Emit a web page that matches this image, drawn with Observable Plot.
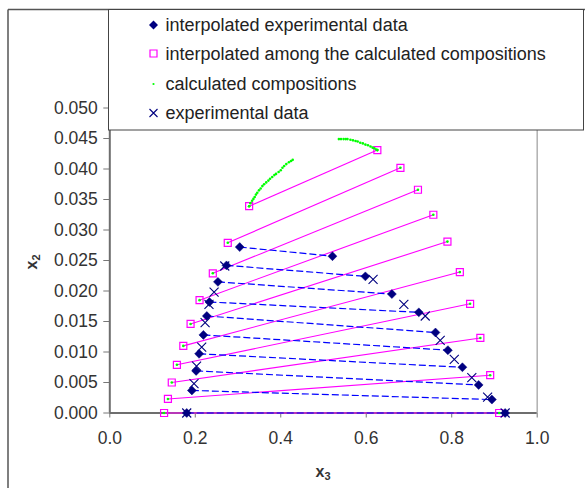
<!DOCTYPE html>
<html><head><meta charset="utf-8">
<script src="https://cdn.jsdelivr.net/npm/d3@7"></script>
<script src="https://cdn.jsdelivr.net/npm/@observablehq/plot@0.6"></script>
<style>body{margin:0;background:#fff} #chart svg{display:block}</style>
</head><body><div id="chart"></div>
<script>
// tick values
const xTicks = [0, 0.2, 0.4, 0.6, 0.8, 1.0];
const yTicks = [0, 0.005, 0.010, 0.015, 0.020, 0.025, 0.030, 0.035, 0.040, 0.045, 0.050];

// interpolated among the calculated compositions (tie-line ends)
const calcLeftX  = [0.127, 0.136, 0.145, 0.157, 0.172, 0.189, 0.210, 0.241, 0.276, 0.326];
const calcLeftY  = [0.0000, 0.0023, 0.0050, 0.0079, 0.0110, 0.0146, 0.0185, 0.0229, 0.0279, 0.0339];
const calcRightX = [0.911, 0.890, 0.867, 0.843, 0.819, 0.790, 0.757, 0.721, 0.680, 0.626];
const calcRightY = [0.0000, 0.0062, 0.0123, 0.0179, 0.0231, 0.0281, 0.0325, 0.0366, 0.0402, 0.0431];

// interpolated experimental data (tie-line ends)
const expLeftX  = [0.180, 0.192, 0.202, 0.209, 0.219, 0.227, 0.233, 0.253, 0.273, 0.304];
const expLeftY  = [0.0000, 0.0037, 0.0069, 0.0097, 0.0128, 0.0159, 0.0182, 0.0215, 0.0242, 0.0272];
const expRightX = [0.925, 0.894, 0.863, 0.825, 0.791, 0.762, 0.723, 0.660, 0.598, 0.521];
const expRightY = [0.0000, 0.0022, 0.0046, 0.0075, 0.0103, 0.0132, 0.0165, 0.0195, 0.0224, 0.0257];

// experimental data
const crossX = [0.180, 0.197, 0.203, 0.215, 0.223, 0.232, 0.244, 0.269, 0.616, 0.688, 0.738, 0.773, 0.806, 0.847, 0.884, 0.925];
const crossY = [0.0000, 0.0048, 0.0077, 0.0108, 0.0148, 0.0178, 0.0198, 0.0241, 0.0219, 0.0178, 0.0159, 0.0119, 0.0088, 0.0058, 0.0026, 0.0000];

// calculated compositions (binodal branches near the plait point)
const greenLeftX  = [0.326, 0.329, 0.333, 0.336, 0.339, 0.342, 0.345, 0.349, 0.353, 0.357, 0.361, 0.366, 0.371, 0.375, 0.380, 0.385, 0.389, 0.395, 0.400, 0.404, 0.408, 0.413, 0.419, 0.424, 0.428];
const greenLeftY  = [0.0339, 0.0344, 0.0348, 0.0351, 0.0354, 0.0358, 0.0361, 0.0365, 0.0368, 0.0372, 0.0375, 0.0378, 0.0381, 0.0384, 0.0387, 0.0390, 0.0392, 0.0395, 0.0398, 0.0402, 0.0405, 0.0408, 0.0411, 0.0413, 0.0415];
const greenRightX = [0.536, 0.541, 0.547, 0.552, 0.556, 0.563, 0.569, 0.575, 0.580, 0.586, 0.592, 0.598, 0.604, 0.610, 0.615, 0.619, 0.623, 0.626];
const greenRightY = [0.0449, 0.0449, 0.0449, 0.0449, 0.0449, 0.0448, 0.0447, 0.0446, 0.0445, 0.0443, 0.0442, 0.0440, 0.0439, 0.0437, 0.0435, 0.0434, 0.0432, 0.0431];

const legendLabels = ["interpolated experimental data", "interpolated among the calculated compositions", "calculated compositions", "experimental data"];

const calcTies = calcLeftX.map((x, i) => ({x1: x, y1: calcLeftY[i], x2: calcRightX[i], y2: calcRightY[i]}));
const expTies = expLeftX.map((x, i) => ({x1: x, y1: expLeftY[i], x2: expRightX[i], y2: expRightY[i]}));
const squares = calcLeftX.map((x, i) => ({x, y: calcLeftY[i]})).concat(calcRightX.map((x, i) => ({x, y: calcRightY[i]})));
const diamonds = expLeftX.map((x, i) => ({x, y: expLeftY[i]})).concat(expRightX.map((x, i) => ({x, y: expRightY[i]})));
const crosses = crossX.map((x, i) => ({x, y: crossY[i]}));
const greens = squares.concat(greenLeftX.map((x, i) => ({x, y: greenLeftY[i]})), greenRightX.map((x, i) => ({x, y: greenRightY[i]})));

const diamondSym = {draw(ctx, size) { const h = Math.sqrt(size / 2); ctx.moveTo(0, -h); ctx.lineTo(h, 0); ctx.lineTo(0, h); ctx.lineTo(-h, 0); ctx.closePath(); }};
const squareSym = {draw(ctx, size) { const h = Math.sqrt(size) / 2; ctx.rect(-h, -h, 2 * h, 2 * h); }};
const timesSym = {draw(ctx, size) { const h = Math.sqrt(size) / 2; ctx.moveTo(-h, -h); ctx.lineTo(h, h); ctx.moveTo(h, -h); ctx.lineTo(-h, h); }};
const rFor = s => Math.sqrt(s / Math.PI);

const chart = Plot.plot({
  width: 585, height: 488,
  marginLeft: 109.3, marginRight: 48.3, marginTop: 107.5, marginBottom: 75.5,
  style: {fontFamily: "'Liberation Sans', Arial, sans-serif", fontSize: "17.5px", background: "white", overflow: "visible"},
  x: {domain: [0, 1]},
  y: {domain: [0, 0.05]},
  marks: [
    Plot.ruleX([1], {stroke: "#b0b0b0", strokeWidth: 1.5}),
    Plot.axisX({ticks: xTicks, tickFormat: d3.format(".1f"), tickSize: 5, tickPadding: 14, label: null, stroke: "#777", fill: "#333", fontSize: 17.5}),
    Plot.axisY({ticks: yTicks, tickFormat: d3.format(".3f"), tickSize: 6, tickPadding: 6, label: null, stroke: "#777", fill: "#333", fontSize: 17.5}),
    Plot.ruleX([0], {stroke: "#6e6e6e", strokeWidth: 2}),
    Plot.ruleY([0], {stroke: "#6e6e6e", strokeWidth: 2}),
    Plot.link(calcTies, {x1: "x1", y1: "y1", x2: "x2", y2: "y2", stroke: "#ff00ff", strokeWidth: 1.1}),
    Plot.link(expTies, {x1: "x1", y1: "y1", x2: "x2", y2: "y2", stroke: "#0000ff", strokeWidth: 1.2, strokeDasharray: "7,3"}),
    Plot.dot(squares, {x: "x", y: "y", symbol: squareSym, r: rFor(49), fill: "none", stroke: "#ff00ff", strokeWidth: 1.2}),
    Plot.dot(diamonds, {x: "x", y: "y", symbol: diamondSym, r: rFor(40), fill: "#000080", stroke: "#000080", strokeWidth: 0.5}),
    Plot.dot(greens, {x: "x", y: "y", r: 1.3, fill: "#00ff00", stroke: "none"}),
    Plot.dot(crosses, {x: "x", y: "y", symbol: timesSym, r: rFor(81), fill: "none", stroke: "#000080", strokeWidth: 1.1})
  ]
});
document.getElementById("chart").appendChild(chart);

const svg = d3.select(chart);
// chart area border
svg.append("line").attr("x1", 8).attr("x2", 585).attr("y1", 9.5).attr("y2", 9.5).attr("stroke", "#555").attr("stroke-width", 1.5);
svg.append("line").attr("x1", 8).attr("x2", 8).attr("y1", 9.5).attr("y2", 488).attr("stroke", "#555").attr("stroke-width", 1.5);

// legend
const lg = svg.append("g").attr("text-anchor", "start");
lg.append("rect").attr("x", 108.5).attr("y", 9.5).attr("width", 475).attr("height", 120.5).attr("fill", "white").attr("stroke", "#444").attr("stroke-width", 1);
const rowsY = [25, 53.5, 84, 113];
const mx = 153.5;
lg.append("path").attr("transform", `translate(${mx},${rowsY[0]})`).attr("d", d3.symbol(diamondSym, 40)()).attr("fill", "#000080");
lg.append("path").attr("transform", `translate(${mx},${rowsY[1]})`).attr("d", d3.symbol(squareSym, 49)()).attr("fill", "none").attr("stroke", "#ff00ff").attr("stroke-width", 1.2);
lg.append("circle").attr("cx", mx).attr("cy", rowsY[2]).attr("r", 1.1).attr("fill", "#00ff00");
lg.append("path").attr("transform", `translate(${mx},${rowsY[3]})`).attr("d", d3.symbol(timesSym, 64)()).attr("fill", "none").attr("stroke", "#000080").attr("stroke-width", 1.1);
legendLabels.forEach((t, i) => {
  lg.append("text").attr("x", 165.5).attr("y", rowsY[i]).attr("dy", "0.35em").attr("fill", "#222").attr("text-anchor", "start")
    .style("font-size", "18px").style("font-family", "'Liberation Sans', Arial, sans-serif").text(t);
});

// axis titles
const xt = svg.append("text").attr("x", 323).attr("y", 477).attr("text-anchor", "middle").attr("fill", "#333")
  .style("font-weight", "bold").style("font-size", "16px").style("font-family", "'Liberation Sans', Arial, sans-serif");
xt.append("tspan").text("x");
xt.append("tspan").attr("dy", 3).style("font-size", "11px").text("3");
const yt = svg.append("text").attr("transform", "translate(37,262) rotate(-90)").attr("text-anchor", "middle").attr("fill", "#333")
  .style("font-weight", "bold").style("font-size", "16px").style("font-family", "'Liberation Sans', Arial, sans-serif");
yt.append("tspan").text("x");
yt.append("tspan").attr("dy", 3).style("font-size", "11px").text("2");
</script>
</body></html>
